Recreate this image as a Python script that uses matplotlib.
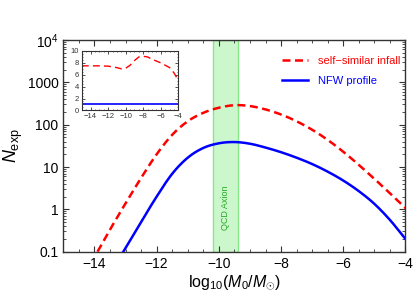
import numpy as np
import matplotlib
matplotlib.use("Agg")
import matplotlib.pyplot as plt
from matplotlib.ticker import FixedLocator, NullFormatter

plt.rcParams['font.family'] = ['Liberation Sans', 'DejaVu Sans']
plt.rcParams['mathtext.fontset'] = 'custom'
plt.rcParams['mathtext.rm'] = 'Liberation Sans'
plt.rcParams['mathtext.it'] = 'Liberation Sans:italic'

# main curves: log10(M0/Msun) vs log10(N_exp)
x_ssi = [-13.9, -13.5, -13.0, -12.5, -12.0, -11.5, -11.0, -10.5, -10.0, -9.5,
         -9.0, -8.5, -8.0, -7.5, -7.0, -6.5, -6.0, -5.5, -5.0, -4.5, -4.0]
logN_ssi = [-1.0, -0.48, 0.14, 0.74, 1.30, 1.76, 2.08, 2.28, 2.40, 2.46,
            2.44, 2.36, 2.24, 2.08, 1.88, 1.64, 1.36, 1.05, 0.72, 0.38, 0.03]

x_nfw = [-13.07, -12.5, -12.0, -11.5, -11.0, -10.5, -10.0, -9.5, -9.0, -8.5,
         -8.0, -7.5, -7.0, -6.5, -6.0, -5.5, -5.0, -4.5, -4.0]
logN_nfw = [-1.0, -0.30, 0.30, 0.84, 1.22, 1.45, 1.56, 1.59, 1.55, 1.46,
            1.35, 1.22, 1.07, 0.89, 0.68, 0.43, 0.13, -0.25, -0.70]

# inset: ratio curves
x_in = [-15, -14, -13, -12, -11, -10.5, -10, -9.5, -9, -8.5, -8, -7.5, -7, -6, -5, -4.5, -4]
r_ssi = [7.5, 7.5, 7.5, 7.45, 7.2, 7.0, 7.1, 7.6, 8.4, 9.0, 9.1, 9.0, 8.6, 8.0, 7.2, 6.3, 5.0]
x_in_nfw = [-15, -4]
r_nfw = [1.0, 1.0]

band = (-10.2, -9.4)
yticks = [0.1, 1, 10, 100, 1000, 1e4]
ytick_labels = ['0.1', '1', '10', '100', '1000', r'$10^4$']
xticks = [-14, -12, -10, -8, -6, -4]

fig = plt.figure(figsize=(4.15, 3.0), dpi=100)
ax = fig.add_axes([0.1525, 0.161, 0.8246, 0.7057])

ax.axvspan(band[0], band[1], facecolor='#ccf7cc', edgecolor='#88e888', lw=1.0, zorder=1)
ax.text(np.mean(band), 1.1, 'QCD Axion', rotation=90, color='#22aa22', fontsize=6.5,
        ha='center', va='center', zorder=2)

def smooth(xs, ys):
    pts = np.column_stack([np.asarray(xs, float), np.asarray(ys, float)])
    P = np.vstack([2*pts[0]-pts[1], pts, 2*pts[-1]-pts[-2]])
    out = []
    t = np.linspace(0, 1, 20, endpoint=False)[:, None]
    for i in range(1, len(P)-2):
        p0, p1, p2, p3 = P[i-1], P[i], P[i+1], P[i+2]
        c = 0.5*((2*p1) + (-p0+p2)*t + (2*p0-5*p1+4*p2-p3)*t**2 + (-p0+3*p1-3*p2+p3)*t**3)
        out.append(c)
    out.append(pts[-1][None, :])
    out = np.vstack(out)
    return out[:, 0], out[:, 1]

xs, ys = smooth(x_ssi, logN_ssi)
ax.plot(xs, 10**ys, color='#ff0000', lw=1.8, ls=(0, (3.2, 1.8)), zorder=3,
        label='self\u2212similar infall')
xb, yb = smooth(x_nfw, logN_nfw)
ax.plot(xb, 10**yb, color='#0000ff', lw=1.8, zorder=3, label='NFW profile')

ax.set_yscale('log')
ax.set_xlim(-15, -4)
ax.set_ylim(0.1, 1e4)
ax.set_xticks(xticks)
ax.set_xticklabels(['\u2212%d' % abs(t) for t in xticks])
ax.xaxis.set_minor_locator(FixedLocator(np.arange(-15, -3.9, 0.5)))
ax.set_yticks(yticks)
ax.set_yticklabels(ytick_labels)
ax.yaxis.set_minor_formatter(NullFormatter())
ax.tick_params(which='both', direction='in', top=True, right=True, colors='#333333',
               labelcolor='black', labelsize=10)
ax.tick_params(which='major', length=4, width=0.8)
ax.tick_params(which='minor', length=2, width=0.6)
for s in ax.spines.values():
    s.set_color('#333333'); s.set_linewidth(1.0)

ax.set_xlabel(r'log$_{10}$($M_0$/$M_{\odot}$)', fontsize=11.5, labelpad=2)
ax.set_ylabel(r'$N_{\rm exp}$', fontsize=13, labelpad=2)

leg = ax.legend(loc='upper right', bbox_to_anchor=(1.015, 0.97), frameon=False, fontsize=8,
                handlelength=2.35, handletextpad=0.9, labelspacing=0.9)
for t, c in zip(leg.get_texts(), ['#ff0000', '#0000ff']):
    t.set_color(c)

# inset
axi = fig.add_axes([0.197, 0.632, 0.233, 0.198])
axi.plot(x_in, r_ssi, color='#ff0000', lw=1.0, ls=(0, (5, 3)))
axi.plot(x_in_nfw, r_nfw, color='#0000ff', lw=1.2)
axi.set_xlim(-15, -4)
axi.set_ylim(0, 10)
axi.set_xticks(xticks)
axi.set_xticklabels(['\u2212%d' % abs(t) for t in xticks])
axi.set_yticks([0, 2, 4, 6, 8, 10])
axi.xaxis.set_minor_locator(FixedLocator(np.arange(-15, -3.9, 0.5)))
axi.yaxis.set_minor_locator(FixedLocator(np.arange(0, 10.1, 0.5)))
axi.tick_params(which='both', direction='in', top=True, right=True, labelsize=5.5,
                colors='#333333', labelcolor='#333333', pad=2)
axi.tick_params(which='major', length=2, width=0.6)
axi.tick_params(which='minor', length=1, width=0.5)
for s in axi.spines.values():
    s.set_color('#333333'); s.set_linewidth(0.8)

fig.savefig('out.png', dpi=100)
